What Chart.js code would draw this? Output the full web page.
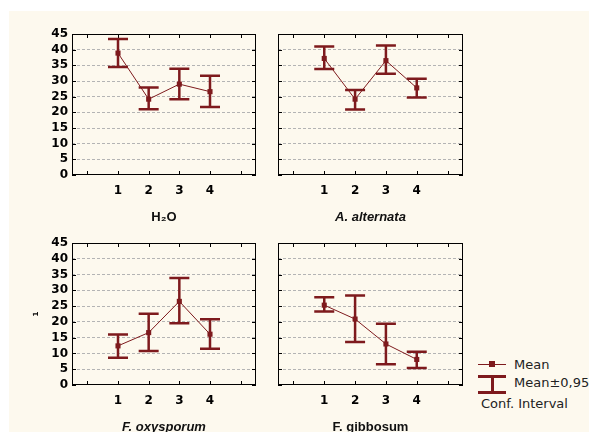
<!DOCTYPE html>
<html><head><meta charset="utf-8">
<script src="https://cdn.jsdelivr.net/npm/chart.js@4/dist/chart.umd.min.js"></script>
<style>
html,body{margin:0;padding:0;background:#fff;overflow:hidden;width:589px;height:432px;}
#bg{position:absolute;left:9px;top:11px;width:580px;height:421px;background:#fdf9ee;}
canvas{position:absolute;}
.lg{position:absolute;font-family:"DejaVu Sans",sans-serif;font-size:13px;color:#222;line-height:15px;white-space:nowrap;}
.sym{position:absolute;background:#7e1a1d;}
</style></head>
<body>
<div id="bg"></div>
<canvas id="cA" width="270" height="225" style="left:0;top:0;width:270px;height:225px"></canvas>
<canvas id="cB" width="200" height="225" style="left:270px;top:0;width:200px;height:225px"></canvas>
<canvas id="cC" width="270" height="210" style="left:0;top:225px;width:270px;height:210px"></canvas>
<canvas id="cD" width="200" height="210" style="left:270px;top:225px;width:200px;height:210px"></canvas>

<div class="sym" style="left:478px;top:364px;width:28px;height:1px"></div>
<div class="sym" style="left:489px;top:361px;width:6px;height:6px"></div>
<div class="lg" style="left:514px;top:357px">Mean</div>
<div class="sym" style="left:478px;top:375px;width:28px;height:3px"></div>
<div class="sym" style="left:491px;top:376px;width:3px;height:16px"></div>
<div class="sym" style="left:478px;top:391px;width:28px;height:3px"></div>
<div class="lg" style="left:514px;top:375px">Mean±0,95</div>
<div class="lg" style="left:481px;top:396px">Conf. Interval</div>

<script>
const categories = [1, 2, 3, 4];
const xTickValues = [0, 1, 2, 3, 4, 5];
const yTickValues = [0, 5, 10, 15, 20, 25, 30, 35, 40, 45];

const h2oMean = [38.9, 24.2, 29.0, 26.6];
const h2oLow  = [34.5, 21.0, 24.2, 21.7];
const h2oHigh = [43.4, 27.9, 33.9, 31.7];

const altMean = [37.2, 24.2, 36.5, 27.8];
const altLow  = [33.8, 20.9, 32.3, 24.7];
const altHigh = [41.0, 27.1, 41.3, 30.7];

const oxyMean = [12.4, 16.6, 26.5, 16.1];
const oxyLow  = [8.6, 10.8, 19.6, 11.5];
const oxyHigh = [16.0, 22.6, 33.9, 20.8];

const gibMean = [25.3, 20.9, 13.0, 8.1];
const gibLow  = [23.3, 13.6, 6.6, 5.4];
const gibHigh = [27.8, 28.4, 19.4, 10.5];

const DARK = '#7e1a1d';

const panelPlugin = {
  id: 'panel',
  beforeDatasetsDraw(chart, args, opts) {
    const {ctx, chartArea: a, scales: {x, y}} = chart;
    ctx.save();
    ctx.strokeStyle = '#000';
    ctx.lineWidth = 1;
    ctx.beginPath();
    for (const v of yTickValues) {
      const py = Math.round(y.getPixelForValue(v)) + 0.5;
      ctx.moveTo(a.left, py); ctx.lineTo(a.left + 4, py);
      ctx.moveTo(a.right - 4, py); ctx.lineTo(a.right, py);
    }
    for (const v of xTickValues) {
      const px = Math.round(x.getPixelForValue(v)) + 0.5;
      ctx.moveTo(px, a.top); ctx.lineTo(px, a.top + 4);
      ctx.moveTo(px, a.bottom - 4); ctx.lineTo(px, a.bottom);
    }
    ctx.stroke();
    ctx.strokeRect(a.left + 0.5, a.top + 0.5, a.right - a.left - 1, a.bottom - a.top - 1);
    const low = opts.low, high = opts.high;
    ctx.strokeStyle = DARK;
    ctx.lineWidth = 2.5;
    ctx.lineCap = 'butt';
    for (let i = 0; i < categories.length; i++) {
      const px = x.getPixelForValue(categories[i]);
      const pl = y.getPixelForValue(low[i]);
      const ph = y.getPixelForValue(high[i]);
      ctx.beginPath();
      ctx.moveTo(px, pl); ctx.lineTo(px, ph);
      ctx.moveTo(px - 10, pl); ctx.lineTo(px + 10, pl);
      ctx.moveTo(px - 10, ph); ctx.lineTo(px + 10, ph);
      ctx.stroke();
    }
    ctx.restore();
  }
};

function makePanel(id, mean, low, high, opt) {
  const ctx = document.getElementById(id);
  return new Chart(ctx, {
    type: 'line',
    data: {
      datasets: [{
        data: categories.map((c, i) => ({x: c, y: mean[i]})),
        borderColor: DARK,
        backgroundColor: DARK,
        borderWidth: 1,
        pointStyle: 'rect',
        pointRadius: 3.6,
        pointBorderWidth: 0,
        tension: 0
      }]
    },
    options: {
      responsive: false,
      devicePixelRatio: 1,
      animation: false,
      events: [],
      layout: {padding: {top: opt.top, right: opt.right, left: 0, bottom: 0}},
      plugins: {
        legend: {display: false},
        tooltip: {enabled: false},
        panel: {low: low, high: high}
      },
      scales: {
        x: {
          type: 'linear', min: -0.5, max: 5.5,
          afterBuildTicks: s => { s.ticks = xTickValues.map(v => ({value: v})); },
          afterFit: s => { s.height = opt.xh; },
          grid: {display: false, drawTicks: false},
          border: {display: false},
          ticks: {
            padding: 9, color: '#000', autoSkip: false, maxRotation: 0,
            font: {family: 'DejaVu Sans', weight: 'bold', size: 12},
            callback: v => (categories.includes(v) ? String(v) : '')
          },
          title: {
            display: true, text: opt.title, color: '#111',
            font: {family: 'Liberation Sans', weight: 'bold', size: 13, style: opt.italic ? 'italic' : 'normal'},
            padding: {top: 0, bottom: 0}
          }
        },
        y: {
          min: 0, max: 45,
          afterBuildTicks: s => { s.ticks = yTickValues.map(v => ({value: v})); },
          afterFit: s => { s.width = opt.yw; },
          grid: {
            drawTicks: false,
            color: c => (c.tick.value === 0 || c.tick.value === 45) ? 'rgba(0,0,0,0)' : '#b4b4b4',
            lineWidth: 1
          },
          border: {display: false, dash: [3, 2]},
          ticks: {
            display: opt.showY, autoSkip: false, padding: 4, color: '#000',
            font: {family: 'DejaVu Sans', weight: 'bold', size: 12}
          },
          title: {
            display: !!opt.ytitle, text: opt.ytitle || '', color: '#000',
            font: {family: 'DejaVu Sans', weight: 'bold', size: 7},
            padding: {top: 32, bottom: 0}
          }
        }
      }
    },
    plugins: [panelPlugin]
  });
}

makePanel('cA', h2oMean, h2oLow, h2oHigh, {top: 34, right: 14, yw: 72, xh: 50, showY: true, title: 'H₂O', italic: false});
makePanel('cB', altMean, altLow, altHigh, {top: 34, right: 7, yw: 8, xh: 50, showY: false, title: 'A. alternata', italic: true});
makePanel('cC', oxyMean, oxyLow, oxyHigh, {top: 18, right: 14, yw: 72, xh: 50, showY: true, title: 'F. oxysporum', italic: true, ytitle: '1'});
makePanel('cD', gibMean, gibLow, gibHigh, {top: 18, right: 7, yw: 8, xh: 50, showY: false, title: 'F. gibbosum', italic: false});
</script>
</body></html>
